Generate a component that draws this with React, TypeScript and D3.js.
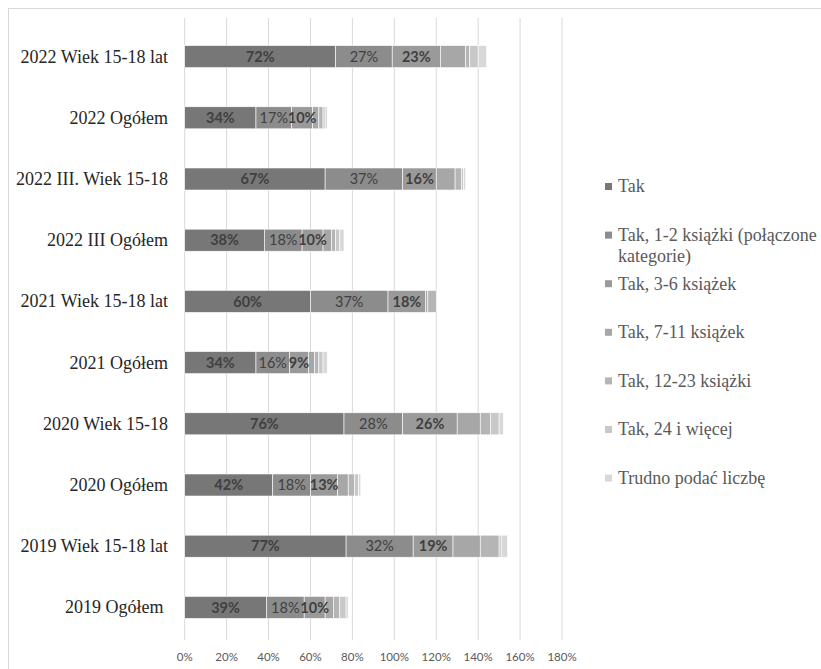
import React from "react";
import * as d3 from "d3";

// Survey groups, top to bottom
const categories = [
  "2022 Wiek 15-18 lat",
  "2022 Ogółem",
  "2022 III. Wiek 15-18",
  "2022 III Ogółem",
  "2021 Wiek 15-18 lat",
  "2021 Ogółem",
  "2020 Wiek 15-18",
  "2020 Ogółem",
  "2019 Wiek 15-18 lat",
  "2019 Ogółem\u00a0",
];

// Share of respondents (%) per answer
const tak = [72, 34, 67, 38, 60, 34, 76, 42, 77, 39];
const tak12 = [27, 17, 37, 18, 37, 16, 28, 18, 32, 18];
const tak36 = [23, 10, 16, 10, 18, 9, 26, 13, 19, 10];
const tak711 = [12, 3, 9, 4, 1, 3, 11, 5, 13, 4];
const tak1223 = [2, 2, 3, 2, 4, 2, 5, 3, 9, 3];
const tak24 = [4, 1, 1, 2, 0, 2, 4, 2, 1, 3];
const trudno = [4, 1, 1, 2, 0, 2, 2, 1, 3, 1];

const seriesNames = [
  "Tak",
  "Tak, 1-2 książki (połączone kategorie)",
  "Tak, 3-6 książek",
  "Tak, 7-11 książek",
  "Tak, 12-23 książki",
  "Tak, 24 i więcej",
  "Trudno podać liczbę",
];
const legendLines = [
  ["Tak"],
  ["Tak, 1-2 książki (połączone", "kategorie)"],
  ["Tak, 3-6 książek"],
  ["Tak, 7-11 książek"],
  ["Tak, 12-23 książki"],
  ["Tak, 24 i więcej"],
  ["Trudno podać liczbę"],
];
const seriesValues = [tak, tak12, tak36, tak711, tak1223, tak24, trudno];
const colors = ["#777777", "#8c8c8c", "#9a9a9a", "#a7a7a7", "#b5b5b5", "#c8c8c8", "#d8d8d8"];

const tickValues = [0, 20, 40, 60, 80, 100, 120, 140, 160, 180];

const W = 821;
const H = 669;
const plot = { left: 184.7, right: 562, top: 26, bottom: 638 };

const labelFont = "Lato, 'Open Sans', sans-serif";
const serifStyle = { fontFamily: "'Liberation Serif', 'Times New Roman', serif" };

export default function App() {
  const keys = seriesNames.map((_, i) => `s${i}`);
  const rows = categories.map((c, ci) => {
    const r: Record<string, any> = { category: c };
    keys.forEach((k, si) => (r[k] = seriesValues[si][ci]));
    return r;
  });
  const stacked = d3.stack().keys(keys)(rows as any);

  const x = d3.scaleLinear().domain([0, 180]).range([plot.left, plot.right]);
  const y = d3
    .scaleBand()
    .domain(categories)
    .range([plot.top, plot.bottom])
    .paddingInner(0.64)
    .paddingOuter(0.32);

  return (
    <svg
      width={W}
      height={H}
      style={{ position: "absolute", left: 0, top: 0, background: "#fff" }}
    >
      <rect x={8.5} y={8.5} width={900} height={900} fill="none" stroke="#d9d9d9" />

      {/* vertical grid */}
      {tickValues.map((t) => (
        <line
          key={t}
          x1={x(t)}
          x2={x(t)}
          y1={plot.top - 8}
          y2={plot.bottom + 2}
          stroke="#d9d9d9"
          strokeWidth={1}
        />
      ))}

      {/* stacked bars */}
      {stacked.map((layer, si) => (
        <g key={layer.key}>
          {layer.map((d, ci) => {
            const w = x(d[1]) - x(d[0]);
            if (w <= 0) return null;
            return (
              <rect
                key={ci}
                x={x(d[0])}
                y={y(categories[ci])}
                width={w}
                height={y.bandwidth()}
                fill={colors[si]}
                stroke="#ffffff"
                strokeWidth={0.6}
              />
            );
          })}
        </g>
      ))}

      {/* value labels on the first three series */}
      {stacked.slice(0, 3).map((layer, si) => (
        <g key={"lab" + layer.key}>
          {layer.map((d, ci) => (
            <text
              key={ci}
              x={(x(d[0]) + x(d[1])) / 2}
              y={(y(categories[ci]) as number) + y.bandwidth() / 2}
              dy="0.36em"
              textAnchor="middle"
              fontFamily={labelFont}
              fontSize={14.5}
              fontWeight={si === 1 ? 400 : 700}
              fill="#404040"
            >
              {seriesValues[si][ci]}%
            </text>
          ))}
        </g>
      ))}

      {/* category labels */}
      {categories.map((c) => (
        <text
          key={c}
          x={168}
          y={(y(c) as number) + y.bandwidth() / 2}
          dy="0.33em"
          textAnchor="end"
          style={serifStyle}
          fontSize={18}
          fill="#262626"
        >
          {c}
        </text>
      ))}

      {/* x axis tick labels */}
      {tickValues.map((t) => (
        <text
          key={"t" + t}
          x={x(t)}
          y={657}
          dy="0.35em"
          textAnchor="middle"
          fontFamily={labelFont}
          fontSize={11.5}
          fill="#595959"
        >
          {t}%
        </text>
      ))}

      {/* legend */}
      {legendLines.map((lines, i) => {
        const ly = 186.5 + i * 48.6;
        return (
          <g key={"leg" + i}>
            <rect x={605} y={ly - 3.5} width={7} height={7} fill={colors[i]} />
            {lines.map((ln, li) => (
              <text
                key={li}
                x={618}
                y={ly + li * 20.7}
                dy="0.33em"
                style={serifStyle}
                fontSize={18}
                fill="#595959"
              >
                {ln}
              </text>
            ))}
          </g>
        );
      })}
    </svg>
  );
}
